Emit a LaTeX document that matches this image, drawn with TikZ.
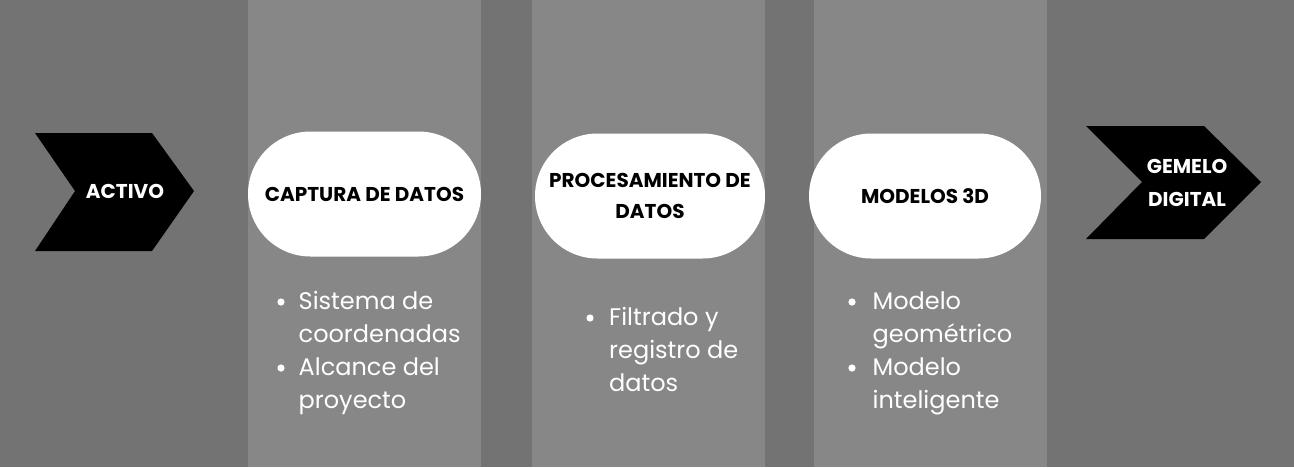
\documentclass[tikz,border=0pt]{standalone}
\usepackage{fontspec}
\setmainfont{Poppins}
\usetikzlibrary{shapes.misc}
\definecolor{bgdark}{HTML}{737373}
\definecolor{bglight}{HTML}{878787}
\begin{document}
\begin{tikzpicture}[x=1pt,y=-1pt,
  pill/.style={rounded rectangle, fill=white, inner sep=0pt, minimum width=#1, minimum height=125, align=center,
    font=\fontsize{20}{31}\selectfont\bfseries, text=black},
  chev/.style={fill=black},
  chevtext/.style={text=white, align=center, font=\fontsize{20}{33}\selectfont\bfseries},
  body/.style={text=white, anchor=base west, inner sep=0pt, font=\fontsize{24}{33}\selectfont},
  dot/.style={fill=white}]
\useasboundingbox (0,0) rectangle (1294,467);
\fill[bgdark] (0,0) rectangle (1294,467);
\fill[bglight] (248,0) rectangle (481,467);
\fill[bglight] (532,0) rectangle (765,467);
\fill[bglight] (814,0) rectangle (1047,467);
% chevrons
\fill[chev] (35,133) -- (152,133) -- (194,191) -- (152,251) -- (35,251) -- (75,191) -- cycle;
\node[chevtext] (activo) at (125,191) {ACTIVO};
\fill[chev] (1086,126) -- (1204,126) -- (1261,182) -- (1204,239) -- (1086,239) -- (1142,182) -- cycle;
\node[chevtext] (gemelo) at (1187,183) {GEMELO\\DIGITAL};
% pills
\node[pill=233] (p1) at (364.5,194) {CAPTURA DE DATOS};
\node[pill=230] (p2) at (650,196) {PROCESAMIENTO DE\\DATOS};
\node[pill=232] (p3) at (925,196) {MODELOS 3D};
% column 1
\fill[dot] (281,302) circle (3.6);
\node[body] (c1a) at (298.5,309) {Sistema de};
\node[body] (c1b) at (298.5,342) {coordenadas};
\fill[dot] (281,368) circle (3.6);
\node[body] (c1c) at (298.5,375) {Alcance del};
\node[body] (c1d) at (298.5,408) {proyecto};
% column 2
\fill[dot] (590,318) circle (3.6);
\node[body] (c2a) at (609,325) {Filtrado y};
\node[body] (c2b) at (609,358) {registro de};
\node[body] (c2c) at (609,391) {datos};
% column 3
\fill[dot] (852,302) circle (3.6);
\node[body] (c3a) at (872.5,309) {Modelo};
\node[body] (c3b) at (872.5,342) {geométrico};
\fill[dot] (852,368) circle (3.6);
\node[body] (c3c) at (872.5,375) {Modelo};
\node[body] (c3d) at (872.5,408) {inteligente};
\end{tikzpicture}
\end{document}
